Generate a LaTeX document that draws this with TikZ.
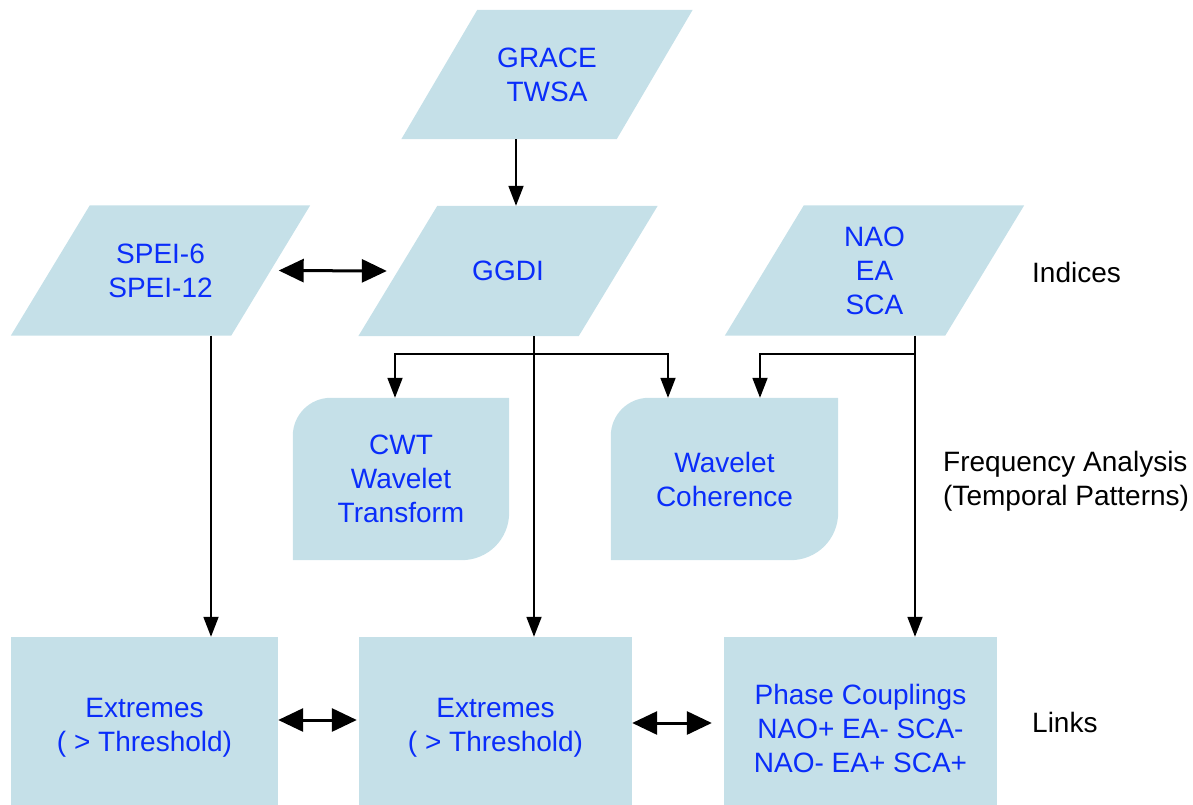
\documentclass[tikz,border=0pt]{standalone}
\usepackage{fontspec}
\setmainfont{Liberation Sans}
\usetikzlibrary{arrows.meta,backgrounds}
\definecolor{boxblue}{RGB}{197,224,232}
\definecolor{txtblue}{RGB}{10,45,250}

\begin{document}
\begin{tikzpicture}[x=1pt,y=-1pt,
  every node/.style={font=\fontsize{28}{34}\selectfont},
  idx/.style={inner sep=0pt, minimum width=220pt, minimum height=130pt, align=center, text=txtblue},
  wave/.style={inner sep=0pt, minimum height=162pt, align=center, text=txtblue},
  link/.style={fill=boxblue, inner sep=0pt, minimum height=182pt, align=center, text=txtblue},
  side/.style={anchor=west, inner sep=0pt, align=left, text=black},
  arr/.style={-{Triangle[length=20pt,width=15pt]}, line width=1.8pt},
  dbl/.style={{Triangle[length=25pt,width=23pt]}-{Triangle[length=25pt,width=23pt]}, line width=3pt}]
\useasboundingbox (0,0) rectangle (1193,805);
\clip (0,0) rectangle (1193,805);

% indices
\node[idx, minimum width=215pt, minimum height=129pt] (grace) at (547,74.5) {GRACE\\TWSA};
\node[idx] (spei) at (160.5,270.5) {SPEI-6\\SPEI-12};
\node[idx] (ggdi) at (508,271) {GGDI};
\node[idx] (nao) at (874.5,270.5) {NAO\\EA\\SCA};

% frequency analysis
\node[wave, minimum width=216pt] (cwt) at (401,479) {CWT\\Wavelet\\Transform};
\node[wave, minimum width=227pt] (wc) at (724.5,479) {Wavelet\\Coherence};

% links
\node[link, minimum width=267pt] (ext1) at (144.5,728) {Extremes\\( > Threshold)};
\node[link, minimum width=273pt] (ext2) at (495.5,728) {Extremes\\( > Threshold)};
\node[link, minimum width=273pt] (phase) at (860.5,728) {Phase Couplings\\NAO+ EA- SCA-\\NAO- EA+ SCA+};

\node[side] (indices) at (1032,272) {Indices};
\node[side] (freq) at (943,481.5) {Frequency Analysis\\(Temporal Patterns)};
\node[side] (links) at (1032,722) {Links};

\begin{pgfonlayer}{background}
\fill[boxblue] ([xshift=38pt]grace.north west) -- ([xshift=38pt]grace.north east) -- ([xshift=-38pt]grace.south east) -- ([xshift=-38pt]grace.south west) -- cycle;
\fill[boxblue] ([xshift=39.5pt]spei.north west) -- ([xshift=39.5pt]spei.north east) -- ([xshift=-39.5pt]spei.south east) -- ([xshift=-39.5pt]spei.south west) -- cycle;
\fill[boxblue] ([xshift=39.5pt]ggdi.north west) -- ([xshift=39.5pt]ggdi.north east) -- ([xshift=-39.5pt]ggdi.south east) -- ([xshift=-39.5pt]ggdi.south west) -- cycle;
\fill[boxblue] ([xshift=39.5pt]nao.north west) -- ([xshift=39.5pt]nao.north east) -- ([xshift=-39.5pt]nao.south east) -- ([xshift=-39.5pt]nao.south west) -- cycle;
\fill[boxblue] (cwt.south west) -- ([yshift=-38pt]cwt.north west) .. controls ([yshift=-17pt]cwt.north west) and ([xshift=17pt]cwt.north west) .. ([xshift=38pt]cwt.north west) -- (cwt.north east) -- ([yshift=48pt]cwt.south east) .. controls ([yshift=21pt]cwt.south east) and ([xshift=-21pt]cwt.south east) .. ([xshift=-48pt]cwt.south east) -- cycle;
\fill[boxblue] (wc.south west) -- ([yshift=-38pt]wc.north west) .. controls ([yshift=-17pt]wc.north west) and ([xshift=17pt]wc.north west) .. ([xshift=38pt]wc.north west) -- (wc.north east) -- ([yshift=48pt]wc.south east) .. controls ([yshift=21pt]wc.south east) and ([xshift=-21pt]wc.south east) .. ([xshift=-48pt]wc.south east) -- cycle;
\end{pgfonlayer}

\coordinate (graceout) at ([xshift=-31pt]grace.south);
\coordinate (speiout) at ([xshift=50.5pt]spei.south);
\coordinate (ggdiout) at ([xshift=26pt]ggdi.south);
\coordinate (naoout) at ([xshift=40.5pt]nao.south);
\coordinate (ggdisplit) at ([yshift=-18pt]ggdiout);
\coordinate (naosplit) at ([yshift=-18.5pt]naoout);

\draw[arr] (graceout) -- (graceout |- ggdi.north);
\draw[dbl] ([xshift=8pt]spei.east) -- ([xshift=-11pt]ggdi.west);
\draw[arr] (speiout) -- (speiout |- ext1.north);
\draw[arr] (ggdiout) -- (ggdiout |- ext2.north);
\draw[arr] (naoout) -- (naoout |- phase.north);
\draw[arr] (ggdisplit) -| ([xshift=-6pt]cwt.north);
\draw[arr] (ggdisplit) -| ([xshift=-56.5pt]wc.north);
\draw[arr] (naosplit) -| ([xshift=35.5pt]wc.north);
\draw[dbl] ([yshift=8pt]ext1.east) -- ([xshift=-2pt,yshift=8pt]ext2.west);
\draw[dbl] ([yshift=5pt]ext2.east) -- ([xshift=-12pt,yshift=5pt]phase.west);
\end{tikzpicture}
\end{document}
